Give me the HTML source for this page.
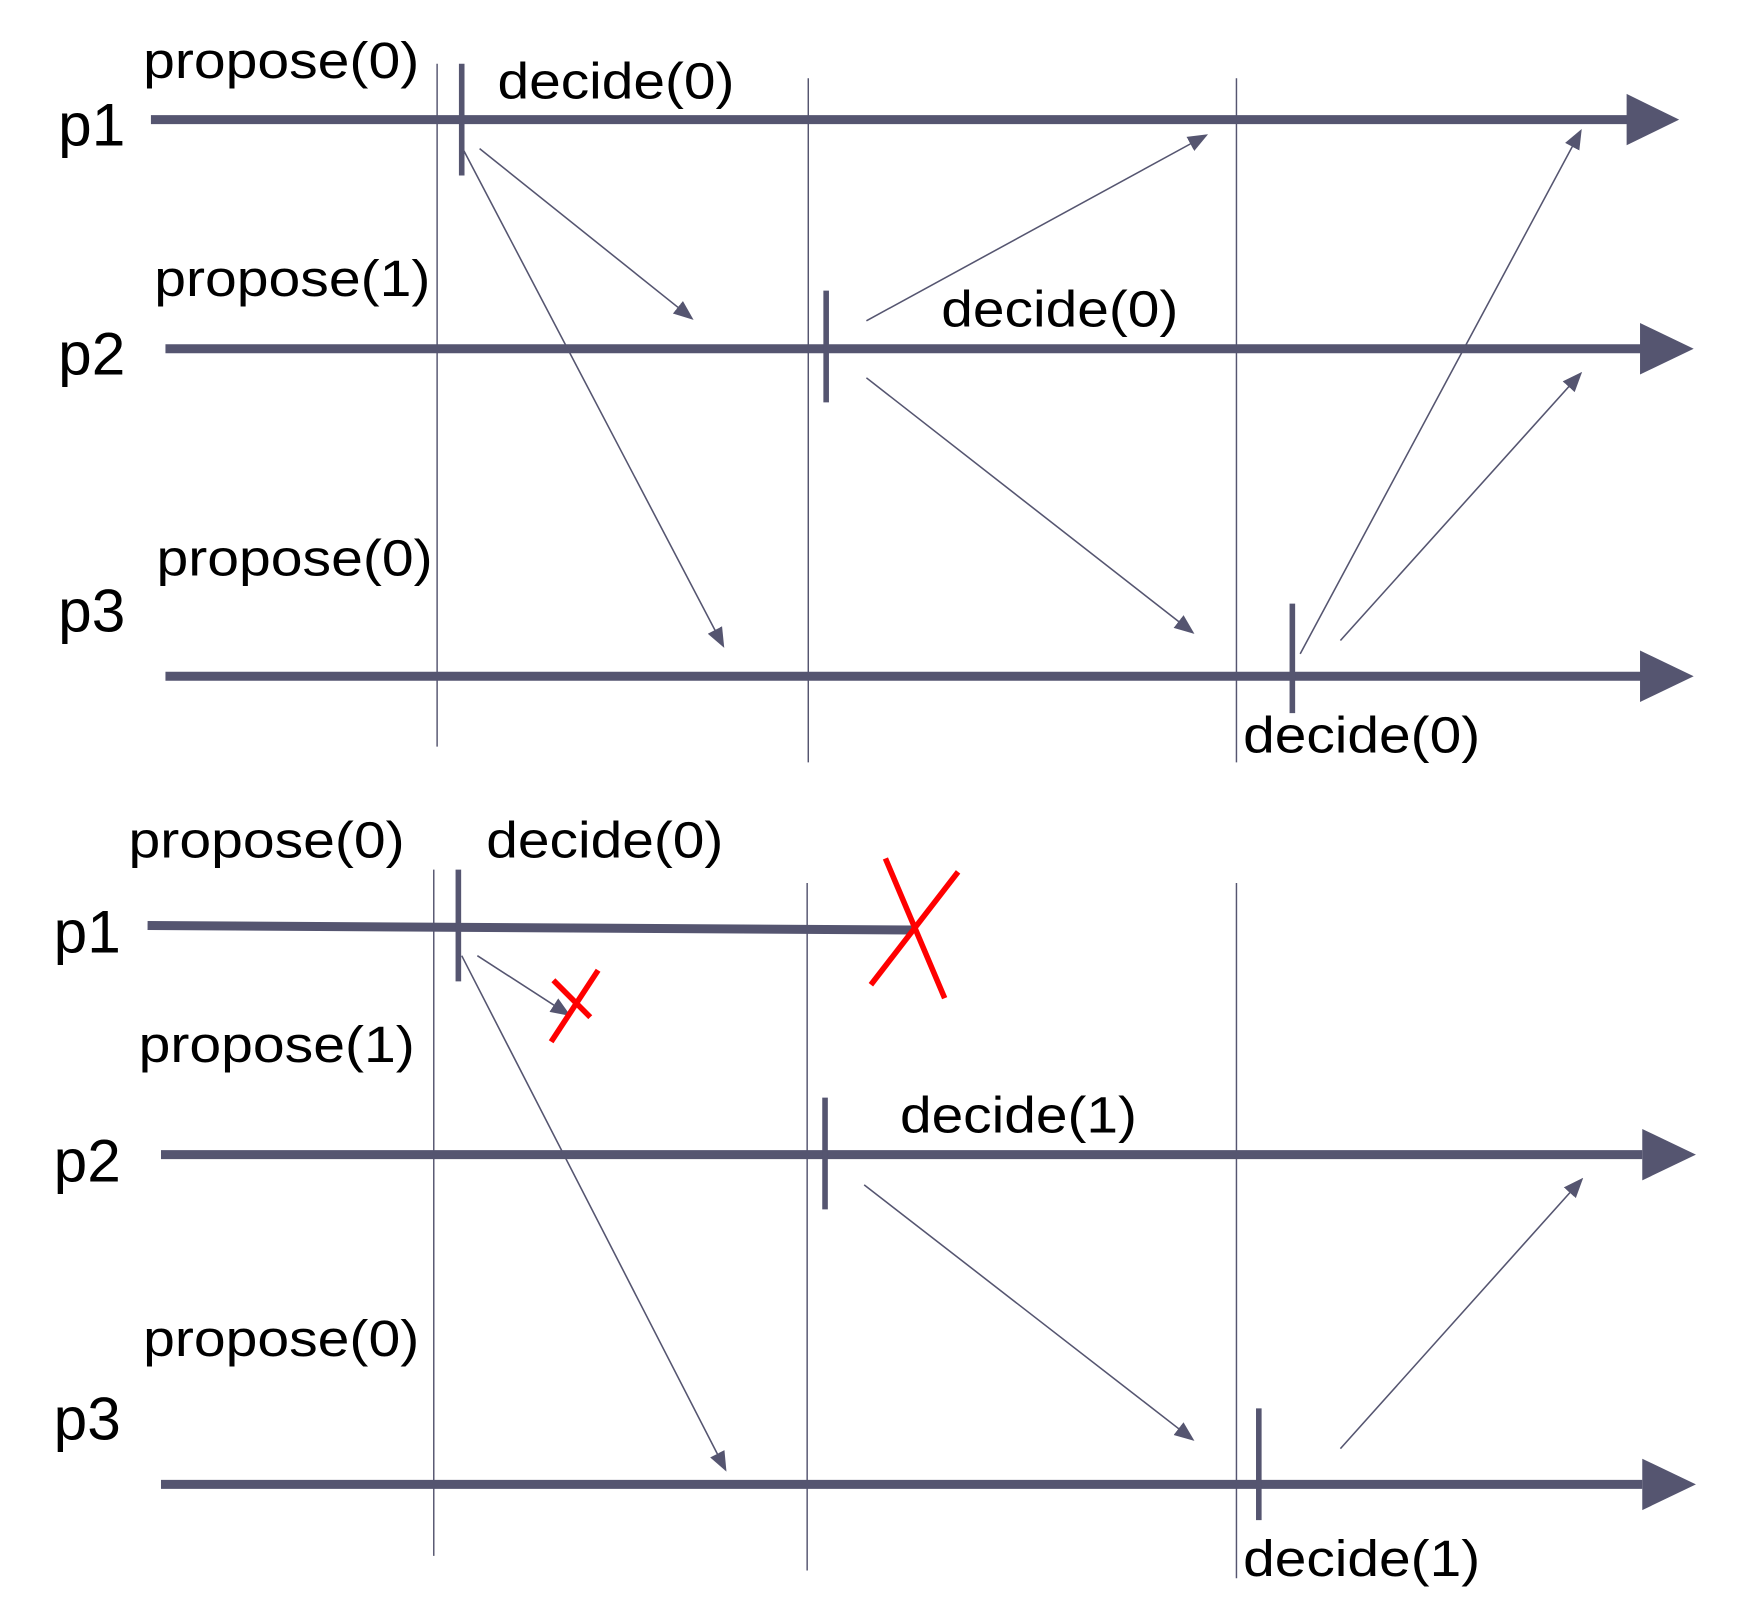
<!DOCTYPE html>
<html><head><meta charset="utf-8"><style>
html,body{margin:0;padding:0;background:#fff;}
svg{display:block;}
text{font-family:"Liberation Sans",sans-serif;fill:#000;}
</style></head><body>
<svg width="1744" height="1604" viewBox="0 0 1560 1435" preserveAspectRatio="none" xmlns="http://www.w3.org/2000/svg">
<defs>
<marker id="a" viewBox="0 0 10 10" refX="9" refY="5" markerWidth="18" markerHeight="18" markerUnits="userSpaceOnUse" orient="auto"><path d="M0,1 L10,5 L0,9 z" fill="#555570"/></marker>
</defs>
<g transform="translate(-3,0)">
<g stroke="#555570" fill="none">
<line x1="394" y1="57" x2="394" y2="668" stroke-width="1.3"/>
<line x1="726" y1="70" x2="726" y2="682" stroke-width="1.3"/>
<line x1="1109" y1="70" x2="1109" y2="682" stroke-width="1.3"/>
<line x1="138" y1="107" x2="1460" y2="107" stroke-width="8"/>
<line x1="151" y1="312" x2="1472" y2="312" stroke-width="8"/>
<line x1="151" y1="605" x2="1472" y2="605" stroke-width="8"/>
<line x1="416" y1="57" x2="416" y2="157" stroke-width="5"/>
<line x1="742" y1="260" x2="742" y2="360" stroke-width="5"/>
<line x1="1159" y1="540" x2="1159" y2="638" stroke-width="5"/>
<g stroke-width="1.4" marker-end="url(#a)">
<line x1="432" y1="133" x2="622" y2="285"/>
<line x1="418" y1="135" x2="650" y2="578"/>
<line x1="778" y1="287" x2="1082" y2="121"/>
<line x1="778" y1="338" x2="1070" y2="566"/>
<line x1="1166" y1="585" x2="1417" y2="117"/>
<line x1="1202" y1="573" x2="1417" y2="334"/>
</g>
<line x1="391" y1="778" x2="391" y2="1392" stroke-width="1.3"/>
<line x1="725" y1="790" x2="725" y2="1405" stroke-width="1.3"/>
<line x1="1109" y1="790" x2="1109" y2="1412" stroke-width="1.3"/>
<line x1="135" y1="828" x2="820" y2="832" stroke-width="8"/>
<line x1="147" y1="1033" x2="1472" y2="1033" stroke-width="8"/>
<line x1="147" y1="1328" x2="1472" y2="1328" stroke-width="8"/>
<line x1="413" y1="778" x2="413" y2="878" stroke-width="5"/>
<line x1="741" y1="982" x2="741" y2="1082" stroke-width="5"/>
<line x1="1129" y1="1260" x2="1129" y2="1360" stroke-width="5"/>
<g stroke-width="1.4" marker-end="url(#a)">
<line x1="430" y1="855" x2="512" y2="908"/>
<line x1="416" y1="855" x2="652" y2="1315"/>
<line x1="776" y1="1060" x2="1070" y2="1288"/>
<line x1="1202" y1="1296" x2="1418" y2="1055"/>
</g>
</g>
<g fill="#555570">
<path d="M1458,84 L1505,107 L1458,130 z"/>
<path d="M1470,289 L1518,312 L1470,335 z"/>
<path d="M1470,582 L1518,605 L1470,628 z"/>
<path d="M1472,1010 L1520,1033 L1472,1056 z"/>
<path d="M1472,1305 L1520,1328 L1472,1351 z"/>
</g>
<g stroke="#ff0000" stroke-width="5" fill="none">
<line x1="795" y1="768" x2="848" y2="893"/>
<line x1="860" y1="780" x2="782" y2="881"/>
<line x1="538" y1="868" x2="496" y2="932"/>
<line x1="498" y1="877" x2="531" y2="910"/>
</g>
</g>
<g font-size="46" lengthAdjust="spacingAndGlyphs">
<text x="128" y="70" textLength="247" lengthAdjust="spacingAndGlyphs">propose(0)</text>
<text x="445" y="88" textLength="212" lengthAdjust="spacingAndGlyphs">decide(0)</text>
<text x="138" y="265" textLength="247" lengthAdjust="spacingAndGlyphs">propose(1)</text>
<text x="842" y="292" textLength="212" lengthAdjust="spacingAndGlyphs">decide(0)</text>
<text x="140" y="515" textLength="247" lengthAdjust="spacingAndGlyphs">propose(0)</text>
<text x="1112" y="673" textLength="212" lengthAdjust="spacingAndGlyphs">decide(0)</text>
<text x="115" y="767" textLength="247" lengthAdjust="spacingAndGlyphs">propose(0)</text>
<text x="435" y="767" textLength="212" lengthAdjust="spacingAndGlyphs">decide(0)</text>
<text x="124" y="950" textLength="247" lengthAdjust="spacingAndGlyphs">propose(1)</text>
<text x="805" y="1013" textLength="212" lengthAdjust="spacingAndGlyphs">decide(1)</text>
<text x="128" y="1213" textLength="247" lengthAdjust="spacingAndGlyphs">propose(0)</text>
<text x="1112" y="1410" textLength="212" lengthAdjust="spacingAndGlyphs">decide(1)</text>
</g>
<g font-size="54">
<text x="52" y="130">p1</text>
<text x="52" y="335">p2</text>
<text x="52" y="565">p3</text>
<text x="48" y="852">p1</text>
<text x="48" y="1057">p2</text>
<text x="48" y="1288">p3</text>
</g>
</svg>
</body></html>
